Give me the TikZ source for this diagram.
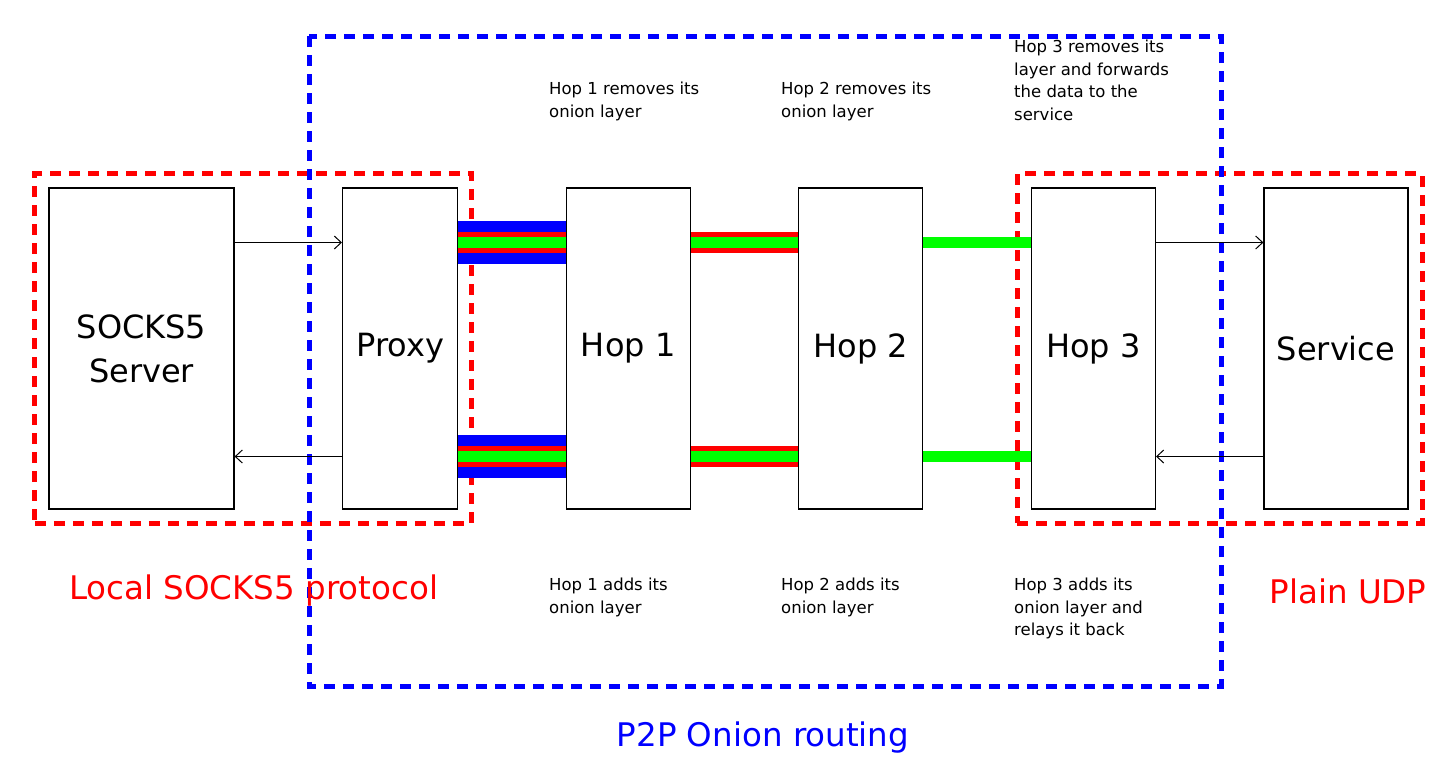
\documentclass[tikz,border=0pt]{standalone}
\usepackage{fontspec}
\setmainfont{DejaVu Sans}
\usetikzlibrary{arrows.meta,positioning,fit,backgrounds}

\begin{document}
\begin{tikzpicture}[x=1pt,y=-1pt,node distance=107.4pt,
  box/.style={draw,line width=1.2pt,minimum height=321pt,align=center,inner sep=0pt,
    font=\fontsize{32}{44}\selectfont},
  note/.style={anchor=north west,align=left,inner sep=0pt,font=\fontsize{16.5}{22.5}\selectfont},
  frame/.style={line width=5pt,dash pattern=on 11pt off 8pt},
  grouptag/.style={inner sep=0pt,font=\fontsize{32.5}{40}\selectfont},
  msg/.style={line width=1pt,-{Straight Barb[length=7pt,width=13pt]}},
  outer/.style={blue,line width=43pt},
  middle/.style={red,line width=21pt},
  inner/.style={green,line width=11pt}]
\useasboundingbox (0,0) rectangle (1448,766);
\node[box,minimum width=185pt] (socks) at (141.5,348.5) {SOCKS5\\Server};
\node[box,minimum width=115pt,right=of socks] (proxy) {Proxy};
\node[box,minimum width=124pt,right=of proxy] (hop1) {Hop 1};
\node[box,minimum width=124pt,right=of hop1] (hop2) {Hop 2};
\node[box,minimum width=124pt,right=of hop2] (hop3) {Hop 3};
\node[box,minimum width=144pt,right=of hop3] (service) {Service};
% protocol areas
\begin{scope}[on background layer]
\node[frame,draw=red,fit=(socks)(proxy),inner sep=13.5pt] (local) {};
\node[frame,draw=red,fit=(hop3)(service),inner sep=13.5pt] (udp) {};
\draw[frame,blue] (309,36) rectangle (1221,686);
\end{scope}
\node[grouptag,red] (localtag) at (253.5,591) {Local SOCKS5 protocol};
\node[grouptag,red] (udptag) at (1348,591) {Plain UDP};
\node[grouptag,blue] (p2ptag) at (763,738) {P2P Onion routing};
% hop notes
\node[note] (rm1) at (549,82) {Hop 1 removes its\\onion layer};
\node[note] (rm2) at (781,82) {Hop 2 removes its\\onion layer};
\node[note] (rm3) at (1014,40) {Hop 3 removes its\\layer and forwards\\the data to the\\service};
\node[note] (add1) at (549,578) {Hop 1 adds its\\onion layer};
\node[note] (add2) at (781,578) {Hop 2 adds its\\onion layer};
\node[note] (add3) at (1014,578) {Hop 3 adds its\\onion layer and\\relays it back};
% plain connections
\coordinate (up) at (0,242.5);
\coordinate (dn) at (0,456.5);
\draw[msg] (socks.east|-up) -- (proxy.west|-up);
\draw[msg] (proxy.west|-dn) -- (socks.east|-dn);
\draw[msg] (hop3.east|-up) -- (service.west|-up);
\draw[msg] (service.west|-dn) -- (hop3.east|-dn);
% onion layers
\foreach \y in {up,dn}{
  \draw[outer] (proxy.east|-\y) -- (hop1.west|-\y);
  \draw[middle] (proxy.east|-\y) -- (hop1.west|-\y);
  \draw[middle] (hop1.east|-\y) -- (hop2.west|-\y);
  \draw[inner] (proxy.east|-\y) -- (hop1.west|-\y);
  \draw[inner] (hop1.east|-\y) -- (hop2.west|-\y);
  \draw[inner] (hop2.east|-\y) -- (hop3.west|-\y);
}
\end{tikzpicture}
\end{document}
